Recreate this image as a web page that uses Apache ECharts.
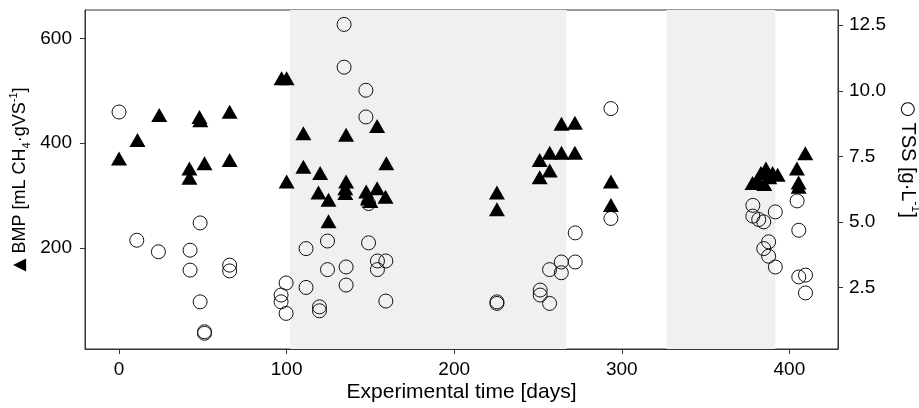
<!DOCTYPE html>
<html>
<head>
<meta charset="utf-8">
<script src="https://cdn.jsdelivr.net/npm/echarts@6/dist/echarts.min.js"></script>
<style>
  html, body { margin: 0; padding: 0; background: #fff; }
  #chart { width: 919px; height: 408px; }
</style>
</head>
<body>
<div id="chart"></div>
<script>
// BMP (triangles, left axis)
const bmpDays = [0, 11, 24, 48, 48.5, 66, 42, 42, 51, 66, 97, 100, 100, 110, 110, 120, 119, 125, 125,
  135.5, 135.5, 135, 135, 154, 159.5, 147.5, 148.5, 154, 159, 150, 225.5, 225.5, 251, 251, 257, 257,
  264, 272, 264, 272, 293.5, 293.5, 378, 381, 383, 386, 388, 390, 393, 385, 404.5, 405.5, 405.5, 409.5]
const bmpValues = [371, 406, 454, 450, 444, 460, 352, 334, 362, 368, 524, 524, 327, 419, 355, 343, 306, 292, 251,
  416, 327, 314, 305, 433, 362, 308, 295, 314, 298, 290, 306, 274, 368, 335, 348, 382,
  382, 382, 437, 439, 327, 282, 324, 330, 343, 352, 335, 343, 340, 322, 352, 325, 317, 381]

// TSS (open circles, right axis)
const tssDays = [0, 10.6, 23.5, 42.4, 42.4, 48.4, 48.4, 51, 51, 66, 66, 99.7, 96.7, 96.7, 99.7,
  134.3, 134.3, 147.3, 147.3, 111.6, 111.6, 124.4, 124.4, 119.6, 119.6, 135.5, 135.5, 148.9, 148.9,
  154.2, 159.2, 154.2, 159.2, 225.5, 225.5, 251.3, 251.3, 256.9, 256.9, 263.9, 263.9, 272.2, 272.2,
  293.5, 293.5, 378.2, 378.2, 381.7, 384.7, 391.6, 404.6, 405.6, 387.6, 384.7, 387.6, 391.6, 405.6, 409.6, 409.6]
const tssValues = [9.19, 4.30, 3.86, 3.92, 3.16, 4.96, 1.95, 0.81, 0.75, 3.35, 3.13, 2.67, 2.21, 1.95, 1.51,
  12.53, 10.90, 10.02, 9.00, 3.98, 2.50, 4.27, 3.18, 1.76, 1.61, 3.28, 2.59, 4.20, 5.70,
  3.51, 3.51, 3.18, 1.98, 1.95, 1.89, 2.40, 2.21, 3.18, 1.89, 3.47, 3.06, 4.58, 3.47,
  9.32, 5.13, 5.63, 5.22, 5.09, 5.00, 5.38, 5.80, 4.68, 4.24, 3.98, 3.69, 3.28, 2.90, 2.97, 2.29]

// shaded periods [start, end] in days
const shadedPeriods = [[102, 267], [326.6, 391.6]]

const xTicks = [0, 100, 200, 300, 400]
const bmpTicks = [200, 400, 600]
const tssTicks = [2.5, 5.0, 7.5, 10.0, 12.5]

const font = 'Liberation Sans, Arial, sans-serif'
const ink = '#000'
const frame = '#333'

const chart = echarts.init(document.getElementById('chart'))

const commonAxis = {
  axisLine: { show: true, onZero: false, lineStyle: { color: frame, width: 1 } },
  axisTick: { show: true, inside: false, length: 5, lineStyle: { color: frame } },
  splitLine: { show: false },
  nameMoveOverlap: false
}

chart.setOption({
  animation: false,
  grid: {
    left: 85, top: 10, width: 753, height: 339,
    outerBoundsMode: 'none',
    show: true, borderColor: frame, borderWidth: 1, backgroundColor: '#fff'
  },
  xAxis: {
    type: 'value', min: -20.3, max: 429,
    ...commonAxis,
    axisTick: { ...commonAxis.axisTick, customValues: xTicks },
    axisLabel: { customValues: xTicks, fontFamily: font, fontSize: 19, color: ink, margin: 11 },
    name: 'Experimental time [days]', nameLocation: 'middle', nameGap: 33,
    nameTextStyle: { fontFamily: font, fontSize: 21, color: ink }
  },
  yAxis: [
    {
      type: 'value', min: 7.6, max: 654, position: 'left',
      ...commonAxis,
      axisTick: { ...commonAxis.axisTick, customValues: bmpTicks },
      axisLabel: { customValues: bmpTicks, fontFamily: font, fontSize: 19, color: ink, margin: 13 },
      name: '{tri|▲} BMP [mL CH{sub|4}·gVS{sup|-1}]',
      nameLocation: 'middle', nameRotate: 90, nameGap: 53,
      nameTextStyle: {
        fontFamily: font, fontSize: 18, color: ink, lineHeight: 24,
        rich: {
          tri: { fontFamily: 'DejaVu Sans', fontSize: 17, color: ink, lineHeight: 24 },
          sub: { fontFamily: font, fontSize: 11, color: ink, verticalAlign: 'bottom', lineHeight: 24 },
          sup: { fontFamily: font, fontSize: 11, color: ink, verticalAlign: 'top', lineHeight: 24 }
        }
      }
    },
    {
      type: 'value', min: 0.152, max: 13.08, position: 'right',
      ...commonAxis,
      axisTick: { ...commonAxis.axisTick, customValues: tssTicks },
      axisLabel: {
        customValues: tssTicks, fontFamily: font, fontSize: 19, color: ink, margin: 11,
        formatter: v => v.toFixed(1)
      },
      name: '{circ|○} TSS [g·L{sup|-1}]',
      nameLocation: 'middle', nameRotate: -90, nameGap: 57,
      nameTextStyle: {
        fontFamily: font, fontSize: 20, color: ink, lineHeight: 26,
        padding: [0, 40, 0, 0],
        rich: {
          circ: { fontFamily: 'DejaVu Sans', fontSize: 18, color: ink, lineHeight: 26 },
          sup: { fontFamily: font, fontSize: 12, color: ink, verticalAlign: 'top', lineHeight: 26 }
        }
      }
    }
  ],
  series: [
    {
      name: 'periods', type: 'scatter', data: [], xAxisIndex: 0, yAxisIndex: 0,
      markArea: {
        silent: true,
        itemStyle: { color: '#f0f0f0' },
        data: shadedPeriods.map(p => [{ xAxis: p[0] }, { xAxis: p[1] }])
      }
    },
    {
      name: 'TSS', type: 'scatter', yAxisIndex: 1,
      symbol: 'circle', symbolSize: 14,
      itemStyle: { color: 'rgba(0,0,0,0)', borderColor: '#111', borderWidth: 1, opacity: 1 },
      data: tssDays.map((d, i) => [d, tssValues[i]])
    },
    {
      name: 'BMP', type: 'scatter', yAxisIndex: 0,
      symbol: 'triangle', symbolSize: [16, 14],
      itemStyle: { color: '#000', opacity: 1 },
      data: bmpDays.map((d, i) => [d, bmpValues[i]])
    }
  ]
})
</script>
</body>
</html>
